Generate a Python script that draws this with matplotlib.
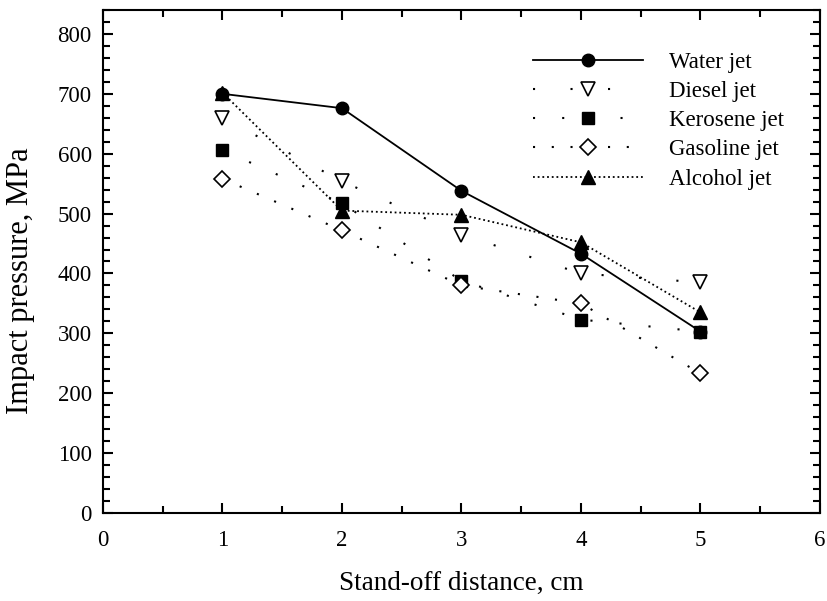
import numpy as np
import matplotlib.pyplot as plt
from matplotlib.ticker import MultipleLocator

plt.rcParams['font.family'] = ['Liberation Serif', 'DejaVu Serif']

distance = [1, 2, 3, 4, 5]
water = [700, 676, 538, 433, 303]
diesel = [660, 554, 465, 400, 385]
kerosene = [606, 517, 388, 323, 303]
gasoline = [558, 472, 380, 350, 233]
alcohol = [702, 505, 498, 452, 335]

fig = plt.figure(figsize=(8.27, 6.01), dpi=100)
ax = fig.add_axes([0.1245, 0.1464, 0.867, 0.837])

ax.plot(distance, water, '-', color='k', lw=1.3, marker='o', ms=9,
        label='Water jet')
ax.plot(distance, diesel, color='k', lw=1.5, ls=(0, (1, 17)), marker='v',
        ms=10, mfc='white', mec='k', mew=1.2, label='Diesel jet')
ax.plot(distance, kerosene, color='k', lw=1.5, ls=(0, (1, 13)), marker='s',
        ms=8.5, label='Kerosene jet')
ax.plot(distance, gasoline, color='k', lw=1.5, ls=(0, (1, 8)), marker='D',
        ms=8, mfc='white', mec='k', mew=1.2, label='Gasoline jet')
ax.plot(distance, alcohol, color='k', lw=1.3, ls=(0, (1, 1.6)), marker='^',
        ms=10, label='Alcohol jet')

ax.set_xlim(0, 6)
ax.set_ylim(0, 840)
ax.xaxis.set_major_locator(MultipleLocator(1))
ax.xaxis.set_minor_locator(MultipleLocator(0.5))
ax.yaxis.set_major_locator(MultipleLocator(100))
ax.yaxis.set_minor_locator(MultipleLocator(20))
ax.tick_params(which='both', direction='in', top=True, right=True,
               width=1.5, labelsize=16.5)
ax.tick_params(which='major', length=7.5)
ax.tick_params(which='minor', length=5)
ax.tick_params(axis='x', which='major', pad=12)
ax.tick_params(axis='y', which='major', pad=8)
for s in ax.spines.values():
    s.set_linewidth(1.5)

ax.set_xlabel('Stand-off distance, cm', fontsize=19.5)
ax.set_ylabel('Impact pressure, MPa', fontsize=22)
ax.xaxis.set_label_coords(0.5, -0.115)
ax.yaxis.set_label_coords(-0.095, 0.461)

ax.legend(loc='upper left', bbox_to_anchor=(0.5997, 0.916), frameon=False,
          fontsize=16.5, handlelength=4.8, handletextpad=1.15,
          labelspacing=0.35, borderpad=0, borderaxespad=0)

fig.savefig('out.png', dpi=100)
